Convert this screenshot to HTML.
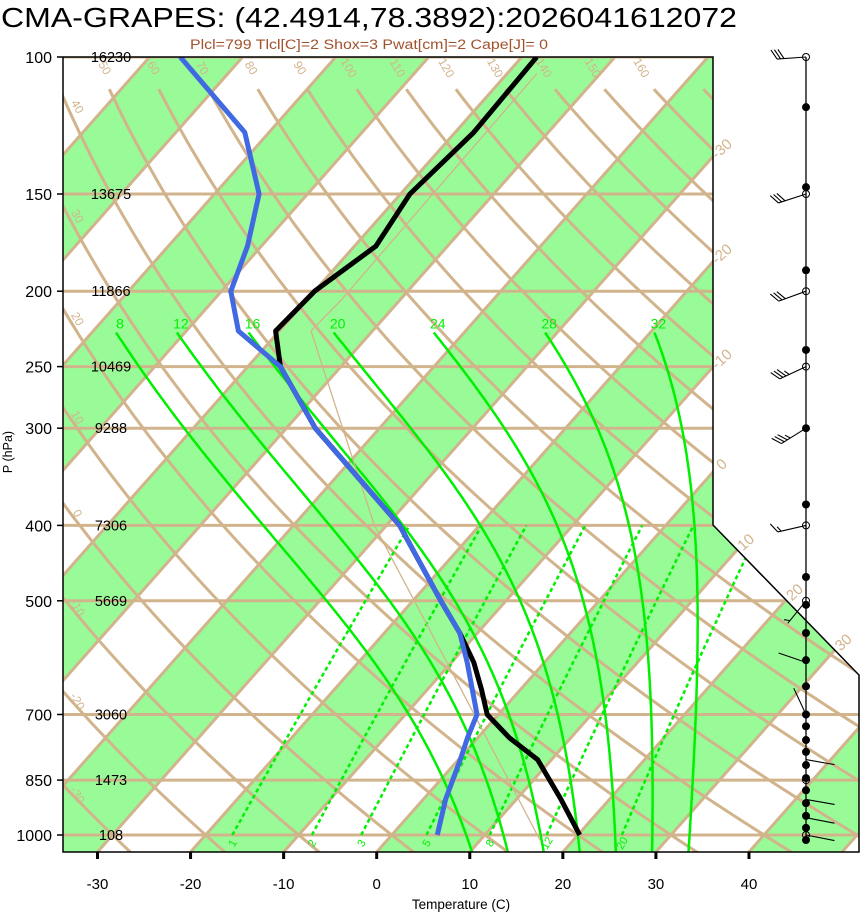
<!DOCTYPE html>
<html><head><meta charset="utf-8"><style>
html,body{margin:0;padding:0;background:#fff;}
svg{display:block;font-family:"Liberation Sans",sans-serif;}
</style></head><body>
<svg id="chart" width="860" height="914" viewBox="0 0 860 914" xmlns="http://www.w3.org/2000/svg">
<defs><clipPath id="plotclip"><polygon points="63,57 713,57 713,525 859,675 859,852 63,852"/></clipPath></defs>
<text x="1" y="27" font-size="28" textLength="736" lengthAdjust="spacingAndGlyphs" fill="#000">CMA-GRAPES: (42.4914,78.3892):2026041612072</text>
<text x="190" y="49" font-size="13.5" textLength="358" lengthAdjust="spacingAndGlyphs" fill="#a0522d">Plcl=799 Tlcl[C]=2 Shox=3 Pwat[cm]=2 Cape[J]= 0</text>
<g id="bg" clip-path="url(#plotclip)"></g>
<g id="lines" clip-path="url(#plotclip)"></g>
<g id="over"></g>
<polyline points="63,57 713,57 713,525 859,675 859,852 63,852 63,57" fill="none" stroke="#000" stroke-width="1.5"/>
<text x="12" y="452" font-size="12.5" text-anchor="middle" transform="rotate(-90 12 452)">P (hPa)</text>
<text x="461" y="909" font-size="13.5" text-anchor="middle">Temperature (C)</text>
</svg>
<script>
// ---- data ----
const P_LEVELS=[100,150,200,250,300,400,500,700,850,1000];
const HGT_LABELS=["16230","13675","11866","10469","9288","7306","5669","3060","1473","108"];
const X_TICKS=[-30,-20,-10,0,10,20,30,40];
const P_T=[1000,900,800,750,700,650,600,550,500,400,300,250,225,200,175,150,125,100];
const T_VAL=[20.2,14.8,8.5,3.4,-1.2,-4.2,-7.6,-11.9,-17.0,-28.6,-46.9,-56.5,-60.4,-60.0,-57.7,-59.0,-58.0,-58.4];
const P_TD=[1000,900,800,750,700,600,550,500,400,300,250,225,200,175,150,125,100];
const TD_VAL=[4.9,2.4,0.2,-1.1,-2.3,-8.3,-11.9,-17.0,-28.6,-46.9,-56.5,-64.4,-69.0,-71.5,-75.2,-82.6,-96.7];
const P_PARCEL=[1015,636,400,225,205,105];
const T_PARCEL=[16.4,-7.5,-31.3,-56.6,-56.3,-56.8];
const THETA_TOP=[50,60,70,80,90,100,110,120,130,140,150,160,170];
const THETA_LEFT=[-30,-20,-10,0,10,20,30,40];
const THETA_W=[8,12,16,20,24,28,32];
const MIX_W=[1,2,3,5,8,12,20];
const ISO_LABELS=[-30,-20,-10,0,10,20,30];
const WIND_P=[100,150,200,250,300,400,500,600,700,800,900,950,1000];
const WIND_DIR=[266,252,250,245,238,257,219,289,335,100,100,101,101];
const WIND_SPD=[30,30,30,35,35,15,5,2,2,2,2,2,2];
const DOT_P=[116,147,188,238,300,376,466,506,550,596,644,700,725,755,782,813,845,876,910,945,979,1015];
const OPEN_P=[100,150,200,250,400,500,850,1000];

// ---- axes ----
const X0=376.7,KX=9.307,YB=852,SK=0.885;
function yP(p){return 57+778*Math.log10(p/100);}
function xTy(T,y){return X0+KX*T+(YB-y)*SK;}
function xT(T,p){return xTy(T,yP(p));}
const NS="http://www.w3.org/2000/svg";
function mk(tag,attrs,parent){const e=document.createElementNS(NS,tag);for(const k in attrs)e.setAttribute(k,attrs[k]);parent.appendChild(e);return e;}
const bg=document.getElementById('bg'),ln=document.getElementById('lines'),ov=document.getElementById('over');
const TAN="#d2b48c",GRN="#00f000";
function ptsStr(a){return a.map(q=>q[0].toFixed(1)+","+q[1].toFixed(1)).join(" ");}

// bands
for(let T=-200;T<=60;T+=20){
 const poly=[[xTy(T,852),852],[xTy(T+10,852),852],[xTy(T+10,57),57],[xTy(T,57),57]];
 const e=mk('polygon',{points:ptsStr(poly),fill:"#98fb98"},bg);
 
 
}
// isobars
P_LEVELS.forEach(p=>{const e=mk('line',{x1:63,x2:860,y1:yP(p),y2:yP(p),stroke:TAN,'stroke-width':3},ln);
 
 });
// isotherms
for(let T=-200;T<=70;T+=10){const e=mk('line',{x1:xTy(T,852),y1:852,x2:xTy(T,57),y2:57,stroke:TAN,'stroke-width':3},ln);
 
 }
// dry adiabats
function dryT(th,p){return (th+273.15)*Math.pow(p/1000,0.286)-273.15;}
function logSteps(p0,p1,n){const a=[];for(let i=0;i<=n;i++)a.push(p0*Math.pow(p1/p0,i/n));return a;}
THETA_LEFT.concat(THETA_TOP).forEach(th=>{
 const p0=th>=50?110:100;
 const pts=logSteps(p0,1060,80).map(p=>[xT(dryT(th,p),p),yP(p)]);
 const e=mk('polyline',{points:ptsStr(pts),fill:"none",stroke:TAN,'stroke-width':3},ln);
 
 
});
// moist adiabats
function es(T){return 6.112*Math.exp(17.67*T/(T+243.5));}
function dTdp(T,p){const Tk=T+273.15,e=es(T),rs=0.622*e/(p-e),Rd=287,cp=1005,Lv=2.5e6;
 return (Rd*Tk+Lv*rs)/(p*(cp+Lv*Lv*rs*0.622/(Rd*Tk*Tk)));}
function moist(tw){let T=tw,p=1000;const up=[];
 while(p>226){const h=-2;const k1=dTdp(T,p),k2=dTdp(T+h*k1/2,p+h/2);T+=h*k2;p+=h;up.push([p,T]);}
 up.reverse();T=tw;p=1000;const dn=[[1000,tw]];
 while(p<1060){const h=2;const k1=dTdp(T,p),k2=dTdp(T+h*k1/2,p+h/2);T+=h*k2;p+=h;dn.push([p,T]);}
 return up.concat(dn);}
THETA_W.forEach(tw=>{
 const m=moist(tw);
 const e=mk('polyline',{points:ptsStr(m.map(q=>[xT(q[1],q[0]),yP(q[0])])),fill:"none",stroke:GRN,'stroke-width':2.5},ln);
 
 
 const t=mk('text',{x:xT(m[0][1],m[0][0])+4,y:yP(m[0][0])-4,'font-size':14,fill:GRN,'text-anchor':'middle'},ov);
 t.textContent=tw;
 
 
});
// mixing ratio lines
function mixT(w,p){const e=w*p/(622+w);const l=Math.log(e/6.112);return 243.5*l/(17.67-l);}
MIX_W.forEach(w=>{
 const pts=logSteps(1000,400,30).map(p=>[xT(mixT(w,p),p),yP(p)]);
 const e=mk('polyline',{points:ptsStr(pts),fill:"none",stroke:GRN,'stroke-width':2.5,'stroke-dasharray':'4,3'},ln);
 
 
 const x=xT(mixT(w,1000),1000);
 const t=mk('text',{x:x,y:847,'font-size':11,fill:GRN,'text-anchor':'middle',transform:`rotate(-60 ${x} 843)`},ln);
 t.textContent=w;
 
 
});
// parcel
{const e=mk('polyline',{points:ptsStr(P_PARCEL.map((p,i)=>[xT(T_PARCEL[i],p),yP(p)])),fill:"none",stroke:TAN,'stroke-width':1.3},ln);
 
 }
// profiles (temperature first, dewpoint on top)
{const e=mk('polyline',{points:ptsStr(P_T.map((p,i)=>[xT(T_VAL[i],p),yP(p)])),fill:"none",stroke:"#000",'stroke-width':5,'stroke-linejoin':'round'},ln);
 
 }
{const e=mk('polyline',{points:ptsStr(P_TD.map((p,i)=>[xT(TD_VAL[i],p),yP(p)])),fill:"none",stroke:"#4169e1",'stroke-width':5,'stroke-linejoin':'round'},ln);
 
 }

// labels: dry adiabats top
THETA_TOP.forEach(th=>{if(th>160)return;const p=104.5,x=xT(dryT(th,p),p),y=yP(p)-2;
 const t=mk('text',{x:x,y:y,'font-size':12,fill:TAN,'text-anchor':'middle',transform:`rotate(60 ${x} ${y})`},ov);
 t.textContent=th;
 
 });
// labels: dry adiabats left
THETA_LEFT.forEach(th=>{let lo=100,hi=1050;for(let i=0;i<40;i++){const m=Math.sqrt(lo*hi);if(xT(dryT(th,m),m)>63)hi=m;else lo=m;}
 const y=yP(lo)+12,x=74;
 const t=mk('text',{x:x,y:y,'font-size':12,fill:TAN,'text-anchor':'middle',transform:`rotate(60 ${x} ${y})`},ov);
 t.textContent=th;
 
 });
// isotherm labels right
ISO_LABELS.forEach(T=>{let y=YB-(713-X0-KX*T)/SK,x=713;
 if(y>525){y=(X0+KX*T+YB*SK-(713-525*146/150))/(SK+146/150);x=xTy(T,y);}
 const lx=x+12,ly=y-4;
 const t=mk('text',{x:lx,y:ly,'font-size':15,fill:TAN,'text-anchor':'middle',transform:`rotate(-42 ${lx} ${ly})`},ov);
 t.textContent=T;
 
 });
// y labels, heights, ticks
P_LEVELS.forEach((p,i)=>{const y=yP(p);
 const t=mk('text',{x:52,y:y+6,'font-size':16,'text-anchor':'end'},ov);t.textContent=p;
 
 
 const h=mk('text',{x:111,y:y+5,'font-size':14.5,'text-anchor':'middle'},ov);h.textContent=HGT_LABELS[i];
 
 
 const k=mk('line',{x1:57,x2:63,y1:y,y2:y,stroke:'#000','stroke-width':1.5},ov);
 
 });
X_TICKS.forEach(T=>{const x=xTy(T,852);
 const k=mk('line',{x1:x,x2:x,y1:852,y2:859,stroke:'#000','stroke-width':3},ov);
 
 
 const t=mk('text',{x:x,y:889,'font-size':15,'text-anchor':'middle'},ov);t.textContent=T;
 
 });
// wind column
const WX=806;
{const e=mk('line',{x1:WX,x2:WX,y1:57,y2:yP(1015),stroke:'#000','stroke-width':1.3},ov);
 
 }
DOT_P.forEach(p=>{const e=mk('circle',{cx:WX,cy:yP(p),r:4,fill:'#000'},ov);
 
 });
OPEN_P.forEach(p=>{const e=mk('circle',{cx:WX,cy:yP(p),r:3.5,fill:'none',stroke:'#000','stroke-width':1},ov);
 
 });
WIND_P.forEach((p,i)=>{const d=WIND_DIR[i]*Math.PI/180,L=29;const vx=Math.sin(d),vy=-Math.cos(d);
 const bx=WX,by=yP(p),tx=bx+vx*L,ty=by+vy*L;
 const g=mk('g',{stroke:'#000','stroke-width':1.1,fill:'none'},ov);
 
 
 mk('line',{x1:bx,y1:by,x2:tx,y2:ty},g);
 const c=Math.cos(Math.PI/3),s=Math.sin(Math.PI/3);const rx=vx*c-vy*s,ry=vx*s+vy*c;
 let spd=WIND_SPD[i],pos=0;
 while(spd>=10){const px=tx-vx*pos,py=ty-vy*pos;mk('line',{x1:px,y1:py,x2:px+rx*11,y2:py+ry*11},g);spd-=10;pos+=3.5;}
 if(spd>=5){if(pos===0)pos=3.5;const px=tx-vx*pos,py=ty-vy*pos;mk('line',{x1:px,y1:py,x2:px+rx*6,y2:py+ry*6},g);}
});
</script>
</body></html>
